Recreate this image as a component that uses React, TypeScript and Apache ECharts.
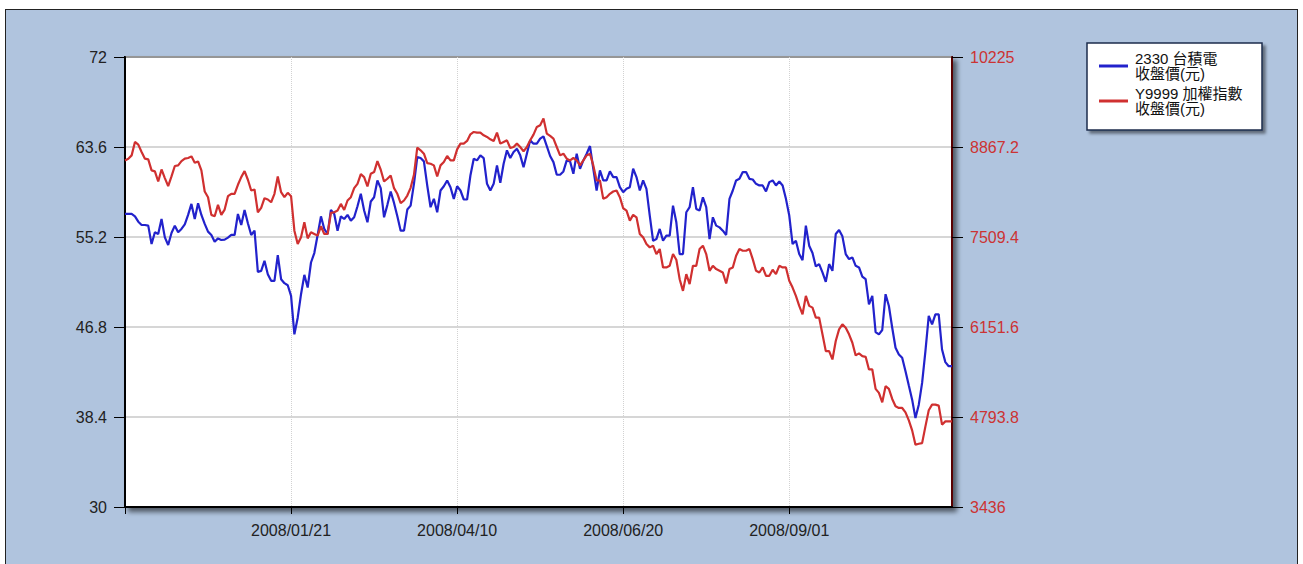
import React, { useEffect, useRef } from "react";
import * as echarts from "echarts";

// 2330 台積電 收盤價(元) — left axis
const tsmc: number[] = [
  57.35, 57.35, 57.35, 57.13, 56.63, 56.32, 56.32, 56.26, 54.54, 55.64,
  55.48, 56.88, 55.17, 54.45, 55.57, 56.26, 55.64, 55.95, 56.38, 57.26,
  58.29, 56.88, 58.35, 57.26, 56.42, 55.70, 55.39, 54.76, 55.07, 54.92,
  54.95, 55.14, 55.39, 55.39, 57.35, 56.32, 57.73, 56.48, 55.39, 55.79,
  51.95, 52.04, 52.98, 51.73, 51.11, 51.11, 53.51, 51.26, 50.89, 50.70,
  49.70, 46.11, 47.67, 49.86, 51.67, 50.48, 52.82, 53.70, 55.39, 57.13,
  55.95, 55.48, 57.73, 57.35, 55.79, 57.13, 56.88, 57.26, 56.73, 57.04,
  58.07, 59.23, 57.67, 56.57, 58.51, 58.91, 60.48, 59.76, 57.04, 58.20,
  59.45, 58.38, 57.13, 55.79, 55.79, 57.76, 58.13, 60.16, 62.66, 62.57,
  62.26, 60.01, 57.98, 58.76, 57.51, 59.54, 59.94, 60.48, 59.85, 58.76,
  59.94, 59.54, 58.70, 58.70, 60.94, 62.51, 62.35, 62.82, 62.57, 60.16,
  59.54, 60.16, 61.88, 60.26, 62.04, 63.29, 62.57, 63.13, 63.44, 62.82,
  61.72, 62.97, 64.22, 63.91, 63.91, 64.38, 64.60, 63.69, 62.76, 62.19,
  61.01, 61.01, 61.32, 62.35, 62.26, 61.10, 62.97, 61.57, 62.35, 62.97,
  63.69, 61.57, 59.54, 61.41, 60.48, 60.48, 61.32, 60.79, 60.79, 59.85,
  59.38, 59.70, 59.85, 61.57, 60.79, 59.54, 60.48, 59.70, 57.20, 54.85,
  55.01, 55.95, 54.85, 55.32, 55.32, 58.13, 56.57, 53.61, 53.61, 57.51,
  57.98, 59.85, 57.82, 57.67, 58.91, 57.98, 55.01, 57.04, 56.26, 56.10,
  55.79, 55.39, 58.76, 59.54, 60.48, 60.63, 61.26, 61.26, 60.63, 60.57,
  60.16, 60.01, 60.01, 59.45, 60.32, 60.48, 60.01, 60.38, 60.01, 58.76,
  57.20, 54.54, 54.85, 53.61, 53.04, 56.26, 54.39, 53.70, 52.45, 52.67,
  51.89, 51.01, 52.67, 52.04, 55.48, 55.85, 55.26, 53.61, 53.14, 53.29,
  52.51, 52.36, 51.51, 51.26, 48.92, 49.70, 46.33, 46.11, 46.52, 49.86,
  48.76, 46.73, 44.86, 44.24, 43.92, 42.67, 41.33, 40.02, 38.30, 39.55,
  41.58, 44.55, 47.83, 47.05, 47.98, 47.98, 44.70, 43.52, 43.14, 43.14,
];

// Y9999 加權指數 收盤價(元) — right axis
const taiex: number[] = [
  8665, 8691, 8741, 8943, 8903, 8792, 8691, 8680, 8514, 8499,
  8347, 8529, 8398, 8277, 8423, 8580, 8590, 8655, 8691, 8701,
  8726, 8630, 8650, 8514, 8196, 8110, 7843, 7822, 7994, 7843,
  7923, 8125, 8161, 8161, 8297, 8413, 8504, 8373, 8211, 8226,
  7883, 7949, 8095, 8075, 8034, 8161, 8423, 8186, 8110, 8176,
  8125, 7605, 7403, 7504, 7731, 7489, 7580, 7555, 7530, 7671,
  7555, 7555, 7873, 7883, 7908, 8009, 7918, 8060, 8110, 8246,
  8312, 8458, 8413, 8272, 8463, 8489, 8655, 8524, 8347, 8388,
  8438, 8246, 8161, 8019, 8060, 8135, 8251, 8448, 8857, 8817,
  8766, 8625, 8615, 8590, 8423, 8590, 8640, 8731, 8665, 8665,
  8832, 8918, 8918, 8958, 9059, 9094, 9084, 9084, 9044, 9019,
  8983, 8958, 9084, 8918, 8943, 8968, 8852, 8867, 8918, 8867,
  8802, 8867, 8968, 9054, 9170, 9195, 9296, 9069, 9034, 8993,
  8867, 8741, 8766, 8691, 8665, 8701, 8665, 8590, 8665, 8741,
  8766, 8590, 8362, 8362, 8085, 8110, 8161, 8196, 8211, 8110,
  7943, 7908, 7757, 7843, 7807, 7555, 7504, 7403, 7353, 7378,
  7252, 7328, 7050, 7050, 7075, 7252, 7166, 6873, 6697, 6949,
  6798, 7075, 7075, 7328, 7378, 7252, 7000, 7075, 7025, 7000,
  6974, 6808, 7025, 7050, 7227, 7328, 7302, 7302, 7328, 7176,
  7000, 6974, 7050, 6924, 6924, 7015, 6949, 7075, 7050, 7050,
  6848, 6747, 6621, 6470, 6343, 6621, 6470, 6444, 6293, 6293,
  6041, 5788, 5788, 5662, 5940, 6116, 6192, 6141, 6041, 5914,
  5723, 5753, 5712, 5702, 5511, 5511, 5218, 5157, 5016, 5258,
  5218, 5066, 4955, 4930, 4930, 4864, 4743, 4592, 4375, 4390,
  4400, 4652, 4895, 4981, 4981, 4965, 4678, 4728, 4728, 4728,
];

const seriesNames = ["2330 台積電\n收盤價(元)", "Y9999 加權指數\n收盤價(元)"];
const dateLabels = ["", "2008/01/21", "2008/04/10", "2008/06/20", "2008/09/01"];
const labelEvery = 50;
const leftTicks = [30, 38.4, 46.8, 55.2, 63.6, 72];
const rightTicks = [3436, 4793.8, 6151.6, 7509.4, 8867.2, 10225];

const categories = tsmc.map((_, i) => String(i));

const FONT = "'Liberation Sans', Arial, 'Noto Sans CJK TC', sans-serif";

export default function App() {
  const ref = useRef<HTMLDivElement>(null);
  useEffect(() => {
    if (!ref.current) return;
    const chart = echarts.init(ref.current, undefined, { renderer: "svg" });
    chart.setOption({
      animation: false,
      backgroundColor: "#B0C4DE",
      textStyle: { fontFamily: FONT },
      grid: {
        left: 125,
        top: 57,
        right: 351,
        bottom: 57,
        show: true,
        backgroundColor: "#ffffff",
        borderColor: "#000000",
        borderWidth: 2,
        shadowColor: "rgba(0,0,0,0.55)",
        shadowBlur: 5,
        shadowOffsetX: 4,
        shadowOffsetY: 4,
      },
      legend: {
        data: seriesNames,
        orient: "vertical",
        left: 1099,
        top: 51,
        itemGap: 5,
        itemWidth: 29,
        itemHeight: 3,
        icon: "rect",
        selectedMode: false,
        padding: 0,
        z: 10,
        textStyle: {
          fontSize: 15,
          lineHeight: 15,
          color: "#111",
          fontFamily: FONT,
          padding: [0, 0, 0, 2],
        },
      },
      xAxis: {
        type: "category",
        boundaryGap: false,
        data: categories,
        axisLine: { show: true, lineStyle: { color: "#000", width: 2 } },
        axisTick: { show: true, interval: labelEvery - 1, length: 7, lineStyle: { color: "#000" } },
        axisLabel: {
          interval: labelEvery - 1,
          margin: 15,
          fontSize: 16,
          color: "#222",
          fontFamily: FONT,
          formatter: (_v: string, idx: number) => dateLabels[idx / labelEvery] ?? "",
        },
        splitLine: {
          show: true,
          interval: labelEvery - 1,
          lineStyle: { color: "#d2d2d2", type: "dotted", width: 1 },
        },
      },
      yAxis: [
        {
          type: "value",
          position: "left",
          min: 30,
          max: 72,
          axisLine: { show: true, lineStyle: { color: "#000", width: 2 } },
          axisTick: { show: true, length: 11, customValues: leftTicks, lineStyle: { color: "#000" } },
          axisLabel: {
            customValues: leftTicks,
            margin: 18,
            fontSize: 16,
            color: "#222",
            fontFamily: FONT,
            formatter: (v: number) => String(v),
          },
          splitLine: { show: true, lineStyle: { color: "#c8c8c8", width: 1.5 } },
        },
        {
          type: "value",
          position: "right",
          min: 3436,
          max: 10225,
          axisLine: { show: true, lineStyle: { color: "#5a0000", width: 2 } },
          axisTick: { show: true, length: 11, customValues: rightTicks, lineStyle: { color: "#000" } },
          axisLabel: {
            customValues: rightTicks,
            margin: 18,
            fontSize: 16,
            color: "#cc3333",
            fontFamily: FONT,
            formatter: (v: number) => String(v),
          },
          splitLine: { show: false },
        },
      ],
      series: [
        {
          name: seriesNames[0],
          type: "line",
          yAxisIndex: 0,
          data: tsmc,
          showSymbol: false,
          color: "#2222cc",
          lineStyle: { color: "#2222cc", width: 2.2 },
        },
        {
          name: seriesNames[1],
          type: "line",
          yAxisIndex: 1,
          data: taiex,
          showSymbol: false,
          color: "#d03030",
          lineStyle: { color: "#d03030", width: 2.2 },
        },
      ],
      graphic: [
        { type: "rect", shape: { x: 0, y: 0, width: 1303, height: 9 }, style: { fill: "#ffffff" }, z: 1 },
        { type: "rect", shape: { x: 0, y: 0, width: 5, height: 564 }, style: { fill: "#ffffff" }, z: 1 },
        { type: "rect", shape: { x: 1298, y: 0, width: 5, height: 564 }, style: { fill: "#ffffff" }, z: 1 },
        { type: "line", shape: { x1: 5, y1: 9.5, x2: 1298, y2: 9.5 }, style: { stroke: "#222", lineWidth: 1 }, z: 1 },
        { type: "line", shape: { x1: 5.5, y1: 9, x2: 5.5, y2: 564 }, style: { stroke: "#222", lineWidth: 1 }, z: 1 },
        { type: "line", shape: { x1: 1297.5, y1: 9, x2: 1297.5, y2: 564 }, style: { stroke: "#222", lineWidth: 1 }, z: 1 },
        {
          type: "rect",
          shape: { x: 1087, y: 43, width: 175, height: 87 },
          style: {
            fill: "#ffffff",
            stroke: "#1c2c4c",
            lineWidth: 1.5,
            shadowColor: "rgba(0,0,0,0.45)",
            shadowBlur: 3,
            shadowOffsetX: 3,
            shadowOffsetY: 3,
          },
          z: 1,
        },
      ],
    });
    return () => chart.dispose();
  }, []);
  return (
    <div
      ref={ref}
      style={{ position: "absolute", left: 0, top: 0, width: 1303, height: 564 }}
    />
  );
}
